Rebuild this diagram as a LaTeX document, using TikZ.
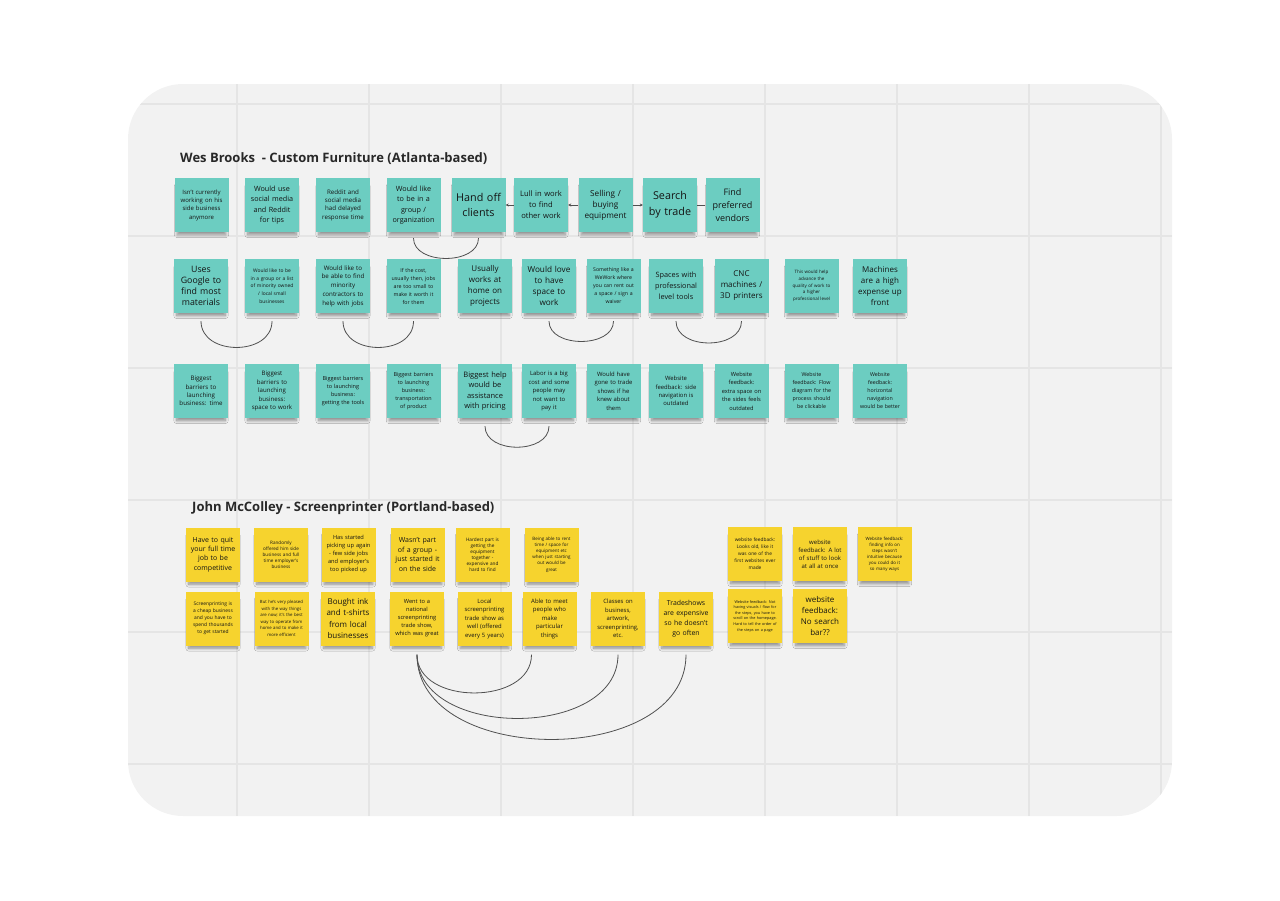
\documentclass[tikz,border=0pt]{standalone}
\usepackage{fontspec}
\setmainfont{Open Sans}
\usetikzlibrary{shadows.blur,arrows.meta}

\definecolor{board}{RGB}{242,242,242}
\definecolor{gridln}{RGB}{229,229,229}
\definecolor{tealnote}{RGB}{108,205,193}
\definecolor{yellownote}{RGB}{246,211,46}
\definecolor{inkc}{RGB}{20,20,20}
\definecolor{titlec}{RGB}{40,40,40}
\definecolor{wire}{RGB}{80,80,80}

\newcommand\fsz[2]{\fontsize{#1pt}{#2pt}\selectfont}

\tikzset{
  note/.style={minimum width=54pt, minimum height=54pt, inner sep=2pt,
    text width=50pt, align=center, text=inkc,
    blur shadow={shadow xshift=0pt, shadow yshift=-6pt, shadow scale=0.9,
      shadow opacity=42, shadow blur steps=8, shadow blur radius=3.2pt}},
  tnote/.style={note, fill=tealnote},
  ynote/.style={note, fill=yellownote},
  fs/.style 2 args={font=\fsz{#1}{#2}},
  heading/.style={anchor=west, text=titlec, inner sep=0pt,
    font=\bfseries\fsz{13}{15}},
  link/.style={draw=wire, line width=0.8pt},
  linkarr/.style={link, -{Stealth[length=3pt,width=3pt]}},
}

\begin{document}
\begin{tikzpicture}[x=1pt, y=-1pt]
\useasboundingbox (0,0) rectangle (1280,900);

% board with its grid
\fill[board, rounded corners=55pt] (128,84) rectangle (1172,816);
\begin{scope}
  \clip[rounded corners=55pt] (128,84) rectangle (1172,816);
  \foreach \gx in {237,369,501,633,765,897,1029,1161}
    \draw[gridln, line width=1.3pt] (\gx,84) -- (\gx,816);
  \foreach \gy in {104,236,368,500,632,764}
    \draw[gridln, line width=1.3pt] (128,\gy) -- (1172,\gy);
\end{scope}

% ---------- Wes Brooks ----------
\node[heading] (h1) at (180,159) {Wes Brooks\ \ - Custom Furniture (Atlanta-based)};

\node[tnote, fs={6}{8.3}]   (t11) at (201.5,205) {Isn't currently\\working on his\\side business\\anymore};
\node[tnote, fs={7.2}{10.3}] (t12) at (272,205) {Would use\\social media\\and Reddit\\for tips};
\node[tnote, fs={6.2}{8.3}] (t13) at (343,205) {Reddit and\\social media\\had delayed\\response time};
\node[tnote, fs={7.2}{10.5}] (t14) at (413.5,205) {Would like\\to be in a\\group /\\organization};
\node[tnote, fs={10.8}{15}] (t15) at (478.5,205) {Hand off\\clients};
\node[tnote, fs={7.6}{11}]  (t16) at (541,205) {Lull in work\\to find\\other work};
\node[tnote, fs={8.2}{11}]  (t17) at (605.5,205) {Selling /\\buying\\equipment};
\node[tnote, fs={10.8}{16}] (t18) at (670,205) {Search\\by trade};
\node[tnote, fs={9}{13}]    (t19) at (732.5,205) {Find\\preferred\\vendors};

\node[tnote, fs={8.8}{11}]  (t21) at (201,286) {Uses\\Google to\\find most\\materials};
\node[tnote, fs={4.9}{7.7}] (t22) at (272,286) {Would like to be\\in a group or a list\\of minority owned\\/ local small\\businesses};
\node[tnote, fs={6.2}{8.7}] (t23) at (343,286) {Would like to\\be able to find\\minority\\contractors to\\help with jobs};
\node[tnote, fs={5.3}{8}]   (t24) at (413.5,286) {If the cost,\\usually then, jobs\\are too small to\\make it worth it\\for them};
\node[tnote, fs={8}{11}]    (t25) at (485,286) {Usually\\works at\\home on\\projects};
\node[tnote, fs={8.2}{11}]  (t26) at (549,286) {Would love\\to have\\space to\\work};
\node[tnote, fs={5.2}{8}]   (t27) at (613.5,286) {Something like a\\WeWork where\\you can rent out\\a space / sign a\\waiver};
\node[tnote, fs={7.3}{10.8}] (t28) at (676,286) {Spaces with\\professional\\level tools};
\node[tnote, fs={8}{11}]    (t29) at (741.5,286) {CNC\\machines /\\3D printers};
\node[tnote, fs={4.5}{6.8}] (t2a) at (811.5,286) {This would help\\advance the\\quality of work to\\a higher\\professional level};
\node[tnote, fs={8}{11}]    (t2b) at (880,286) {Machines\\are a high\\expense up\\front};

\node[tnote, fs={6.2}{8.3}] (t31) at (201,391) {Biggest\\barriers to\\launching\\business: time};
\node[tnote, fs={6.1}{8.5}] (t32) at (272,391) {Biggest\\barriers to\\launching\\business:\\space to work};
\node[tnote, fs={5.5}{7.8}] (t33) at (343,391) {Biggest barriers\\to launching\\business:\\getting the tools};
\node[tnote, fs={5.4}{8}]   (t34) at (413.5,391) {Biggest barriers\\to launching\\business:\\transportation\\of product};
\node[tnote, fs={7.5}{10.5}] (t35) at (485,391) {Biggest help\\would be\\assistance\\with pricing};
\node[tnote, fs={5.9}{8.5}] (t36) at (549,391) {Labor is a big\\cost and some\\people may\\not want to\\pay it};
\node[tnote, fs={5.9}{8.5}] (t37) at (613.5,391) {Would have\\gone to trade\\shows if he\\knew about\\them};
\node[tnote, fs={5.9}{8.3}] (t38) at (676,391) {Website\\feedback: side\\navigation is\\outdated};
\node[tnote, fs={5.7}{8.5}] (t39) at (741.5,391) {Website\\feedback:\\extra space on\\the sides feels\\outdated};
\node[tnote, fs={5.3}{8}]   (t3a) at (811.5,391) {Website\\feedback: Flow\\diagram for the\\process should\\be clickable};
\node[tnote, fs={5.3}{8}]   (t3b) at (880,391) {Website\\feedback:\\horizontal\\navigation\\would be better};

% connectors, first group
\draw[linkarr] (t16.west) -- (t15.east);
\draw[linkarr] (t17.west) -- (t16.east);
\draw[linkarr] (t17.east) -- (t18.west);
\draw[link] (t19.west) -- (t18.east);

\draw[link] ([yshift=-6pt]t14.south) .. controls +(0,27) and +(0,27) .. ([yshift=-6pt]t15.south);
\draw[link] ([yshift=-8pt]t21.south) .. controls +(0,35) and +(0,35) .. ([yshift=-8pt]t22.south);
\draw[link] ([yshift=-8pt]t23.south) .. controls +(0,35) and +(0,35) .. ([yshift=-8pt]t24.south);
\draw[link] ([yshift=-8pt]t26.south) .. controls +(0,27) and +(0,27) .. ([yshift=-8pt]t27.south);
\draw[link] ([yshift=-8pt]t28.south) .. controls +(0,29) and +(0,29) .. ([yshift=-8pt]t29.south);
\draw[link] ([yshift=-8pt]t35.south) .. controls +(0,28) and +(0,28) .. ([yshift=-8pt]t36.south);

% ---------- John McColley ----------
\node[heading] (h2) at (192,508) {John McColley - Screenprinter (Portland-based)};

\node[ynote, fs={7}{9.3}]   (y11) at (213,554.5) {Have to quit\\your full time\\job to be\\competitive};
\node[ynote, fs={4.6}{6}]   (y12) at (281,554.5) {Randomly\\offered him side\\business and full\\time employer's\\business};
\node[ynote, fs={5.7}{8}]   (y13) at (348.5,554.5) {Has started\\picking up again\\- few side jobs\\and employer's\\too picked up};
\node[ynote, fs={7}{9.5}]   (y14) at (417.5,554.5) {Wasn't part\\of a group -\\just started it\\on the side};
\node[ynote, fs={4.7}{6}]   (y15) at (482.5,554.5) {Hardest part is\\getting the\\equipment\\together -\\expensive and\\hard to find};
\node[ynote, fs={4.5}{6.2}] (y16) at (551.5,554.5) {Being able to rent\\time / space for\\equipment etc\\when just starting\\out would be\\great};
\node[ynote, fs={4.8}{7}]   (y17) at (755,554) {website feedback:\\Looks old, like it\\was one of the\\first websites ever\\made};
\node[ynote, fs={6}{8}]     (y18) at (820,554) {website\\feedback: A lot\\of stuff to look\\at all at once};
\node[ynote, fs={4.4}{6}]   (y19) at (884.5,554) {Website feedback:\\finding info on\\steps wasn't\\intuitive because\\you could do it\\so many ways};

\node[ynote, fs={4.9}{7}]   (y21) at (213,618.5) {Screenprinting is\\a cheap business\\and you have to\\spend thousands\\to get started};
\node[ynote, fs={4.3}{6.5}] (y22) at (281.5,618.5) {But he's very pleased\\with the way things\\are now; it's the best\\way to operate from\\home and to make it\\more efficient};
\node[ynote, fs={8}{11.3}]  (y23) at (348,618.5) {Bought ink\\and t-shirts\\from local\\businesses};
\node[ynote, fs={5.7}{8}]   (y24) at (417,618.5) {Went to a\\national\\screenprinting\\trade show,\\which was great};
\node[ynote, fs={5.9}{8.5}] (y25) at (484.5,618.5) {Local\\screenprinting\\trade show as\\well (offered\\every 5 years)};
\node[ynote, fs={6}{8.5}]   (y26) at (549.5,618.5) {Able to meet\\people who\\make\\particular\\things};
\node[ynote, fs={5.9}{8.5}] (y27) at (618,618.5) {Classes on\\business,\\artwork,\\screenprinting,\\etc.};
\node[ynote, fs={6.9}{9.8}] (y28) at (686,618.5) {Tradeshows\\are expensive\\so he doesn't\\go often};
\node[ynote, fs={3.8}{5.6}] (y29) at (755,616) {Website feedback: Not\\having visuals / flow for\\the steps, you have to\\scroll on the homepage.\\Hard to tell the order of\\the steps on a page};
\node[ynote, fs={8}{11}]    (y2a) at (820,616) {website\\feedback:\\No search\\bar??};

% connectors, second group
\coordinate (ys) at ([yshift=-9pt]y24.south);
\draw[link] (ys) .. controls +(0,51) and +(0,51) .. ([xshift=-18pt,yshift=-9pt]y26.south);
\draw[link] (ys) .. controls +(0,85) and +(0,85) .. ([yshift=-9pt]y27.south);
\draw[link] (ys) .. controls +(0,113) and +(0,113) .. ([yshift=-9pt]y28.south);

\end{tikzpicture}
\end{document}
